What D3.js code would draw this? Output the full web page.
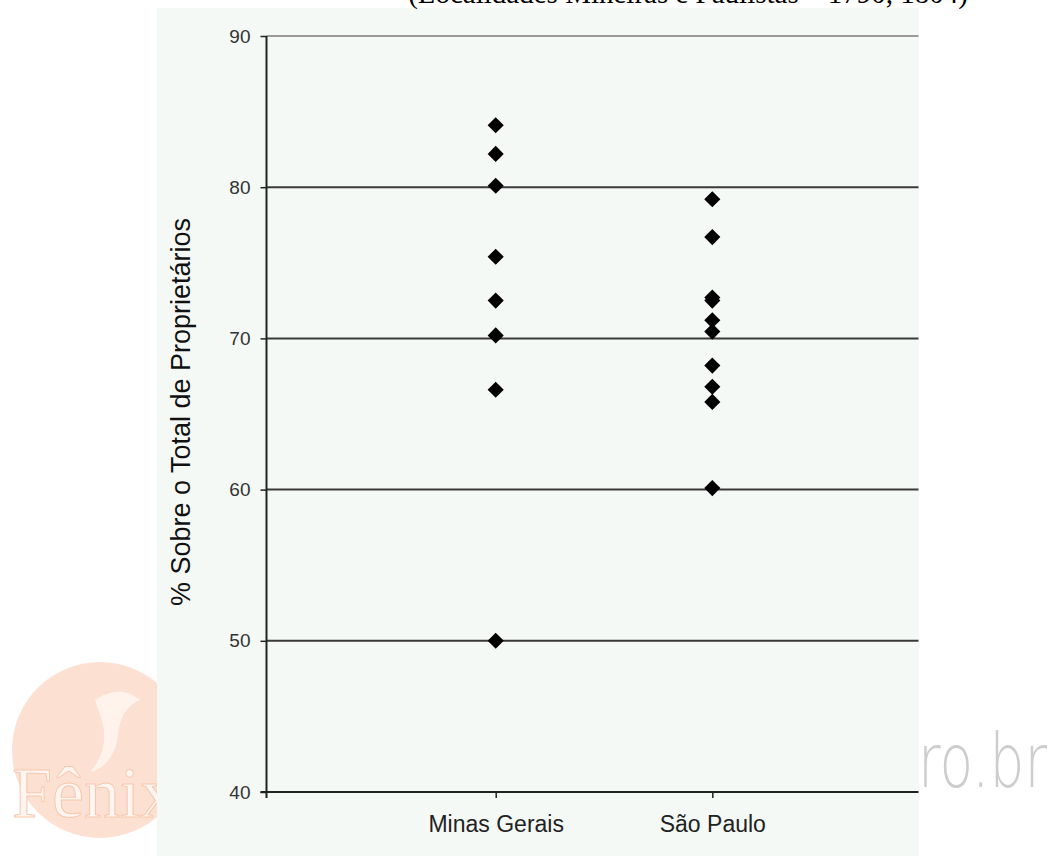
<!DOCTYPE html>
<html>
<head>
<meta charset="utf-8">
<script src="https://cdn.jsdelivr.net/npm/d3@7"></script>
<style>
html, body { margin: 0; padding: 0; background: #ffffff; }
svg { display: block; }
</style>
</head>
<body>
<svg id="chart" width="1056" height="856"></svg>
<script>
// ---- data ----
const titleText = "(Localidades Mineiras e Paulistas – 1790, 1804)";
const yAxisTitle = "% Sobre o Total de Proprietários";
const categories = ["Minas Gerais", "São Paulo"];
const minasGeraisValues = [84.1, 82.2, 80.1, 75.4, 72.5, 70.2, 66.6, 50.0];
const saoPauloValues = [79.2, 76.7, 72.7, 72.5, 71.2, 70.45, 68.2, 66.8, 65.8, 60.1];
const yTicks = [40, 50, 60, 70, 80, 90];

const svg = d3.select("#chart");

// watermark (left logo and right text)
const wm = svg.append("g");
wm.append("circle").attr("cx", 100).attr("cy", 750).attr("r", 88)
  .attr("fill", "#fbdccb").attr("opacity", 0.85);
wm.append("path")
  .attr("d", "M95,700 C110,690 125,688 140,700 C128,705 120,715 118,735 C115,760 100,770 90,772 C105,755 108,735 100,715 Z")
  .attr("fill", "#fff3ec");
wm.append("text").attr("x", 12).attr("y", 817)
  .attr("font-family", "Liberation Serif, serif").attr("font-size", 72)
  .attr("fill", "#fff6f1").attr("stroke", "#f6c7ad").attr("stroke-width", 1)
  .text("Fênix");
wm.append("text").attr("x", 918).attr("y", 787)
  .attr("font-family", "DejaVu Sans, sans-serif").attr("font-size", 74)
  .attr("font-weight", 300)
  .attr("textLength", 129).attr("lengthAdjust", "spacingAndGlyphs")
  .attr("fill", "#cdcdcd")
  .text("ro.br");

// panel
svg.append("rect").attr("x", 157).attr("y", 8).attr("width", 762).attr("height", 848)
  .attr("fill", "#f5f9f6");

// title (cut at the top, as in the source)
svg.append("text").attr("x", 688).attr("y", 3).attr("text-anchor", "middle")
  .attr("font-family", "Liberation Serif, Times New Roman, serif").attr("font-size", 29)
  .attr("fill", "#000").text(titleText);

const plotLeft = 266.5, plotRight = 918.5, plotTop = 36, plotBottom = 792;

const y = d3.scaleLinear().domain([40, 90]).range([plotBottom, plotTop]);
const x = d3.scalePoint().domain(categories).range([495.7, 712.3]);

// gridlines
svg.append("g").selectAll("line").data(yTicks.filter(d => d > 40)).join("line")
  .attr("x1", plotLeft).attr("x2", plotRight)
  .attr("y1", d => y(d)).attr("y2", d => y(d))
  .attr("stroke", d => d === 90 ? "#9a9a9a" : "#3a3a3a")
  .attr("stroke-width", 2);

// y axis
const yAxis = svg.append("g").attr("transform", `translate(${plotLeft},0)`)
  .call(d3.axisLeft(y).tickValues(yTicks).tickSize(6).tickPadding(10).tickFormat(d3.format("d")));
yAxis.select(".domain").attr("d", `M0,${plotTop}V${plotBottom + 6}`).attr("stroke", "#222").attr("stroke-width", 2);
yAxis.selectAll(".tick line").attr("stroke", "#222").attr("stroke-width", 1.5);
yAxis.selectAll(".tick text").attr("font-family", "Liberation Sans, Arial, sans-serif")
  .attr("font-size", 19).attr("fill", "#333");

// x axis
const xAxis = svg.append("g").attr("transform", `translate(0,${plotBottom})`)
  .call(d3.axisBottom(x).tickSize(6).tickPadding(18));
xAxis.select(".domain").attr("d", `M${plotLeft - 6},0H${plotRight}`).attr("stroke", "#222").attr("stroke-width", 2);
xAxis.selectAll(".tick line").attr("stroke", "#222").attr("stroke-width", 1.5);
xAxis.selectAll(".tick text").attr("font-family", "Liberation Sans, Arial, sans-serif")
  .attr("font-size", 23).attr("fill", "#222");

// y axis title
svg.append("text")
  .attr("transform", `translate(190,412) rotate(-90)`)
  .attr("text-anchor", "middle")
  .attr("font-family", "Liberation Sans, Arial, sans-serif").attr("font-size", 27)
  .attr("fill", "#111").text(yAxisTitle);

// markers
const diamond = d3.symbol().type(d3.symbolSquare).size(130);
const series = [
  { cat: categories[0], values: minasGeraisValues },
  { cat: categories[1], values: saoPauloValues }
];
series.forEach(s => {
  svg.append("g").selectAll("path").data(s.values).join("path")
    .attr("d", diamond)
    .attr("transform", d => `translate(${x(s.cat)},${y(d)}) rotate(45)`)
    .attr("fill", "#000");
});
</script>
</body>
</html>
